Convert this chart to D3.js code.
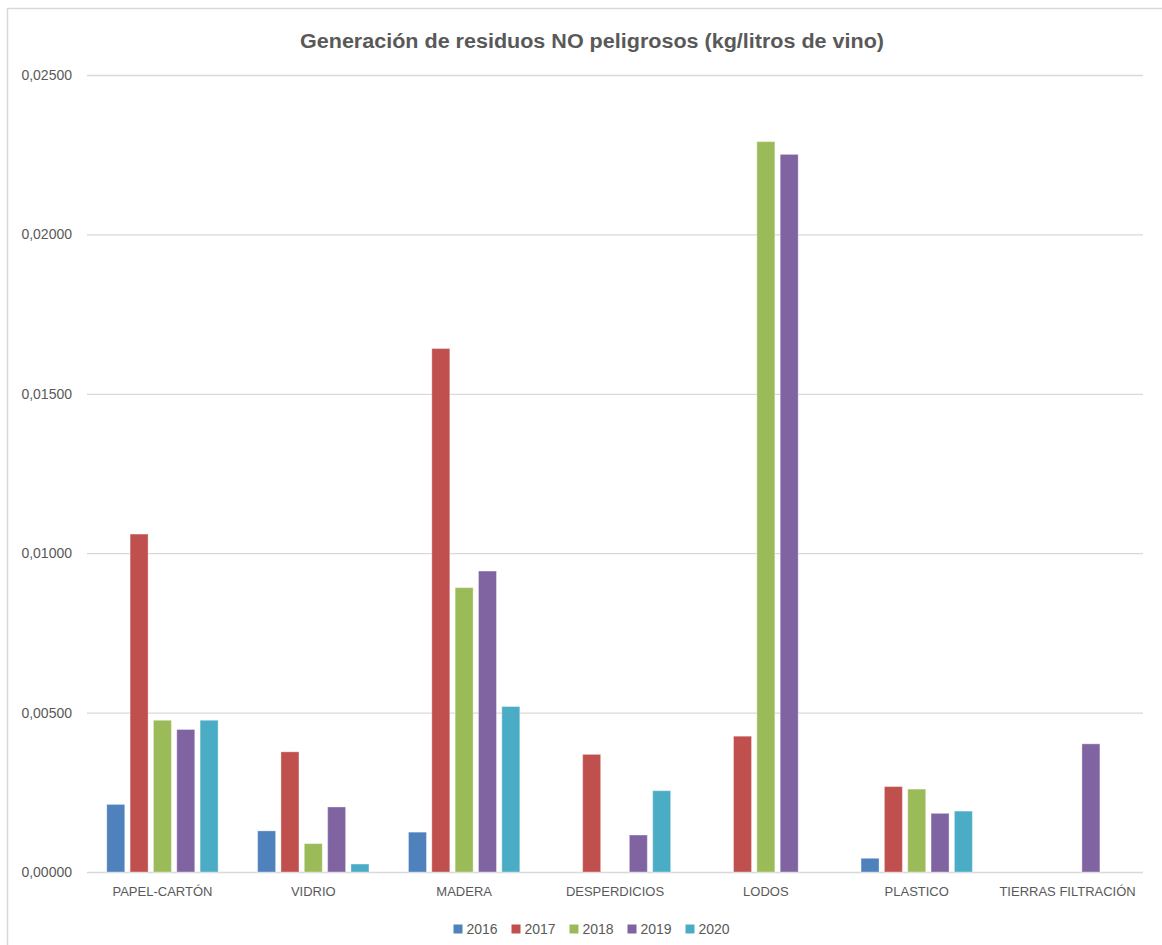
<!DOCTYPE html>
<html>
<head>
<meta charset="utf-8">
<script src="https://cdn.jsdelivr.net/npm/d3@7"></script>
<style>
  html, body { margin: 0; padding: 0; background: #fff; }
  svg { display: block; }
  text { font-family: "Liberation Sans", Arial, sans-serif; fill: #595959; }
</style>
</head>
<body>
<svg id="chart" width="1162" height="945"></svg>
<script>
// Residuos no peligrosos por tipo y año (kg/litros de vino)
const categories = ["PAPEL-CARTÓN", "VIDRIO", "MADERA", "DESPERDICIOS", "LODOS", "PLASTICO", "TIERRAS FILTRACIÓN"];
const years = ["2016", "2017", "2018", "2019", "2020"];

const values2016 = [0.00212, 0.00129, 0.00125, null, null, 0.00043, null];
const values2017 = [0.01060, 0.00377, 0.01642, 0.00369, 0.00426, 0.00268, null];
const values2018 = [0.00476, 0.00089, 0.00892, null, 0.02291, 0.00260, null];
const values2019 = [0.00447, 0.00204, 0.00944, 0.00116, 0.02251, 0.00184, 0.00402];
const values2020 = [0.00476, 0.00025, 0.00519, 0.00255, null, 0.00191, null];

const yTicks = [0, 0.005, 0.01, 0.015, 0.02, 0.025];
const colors = ["#4F81BD", "#C0504D", "#9BBB59", "#8064A2", "#4BACC6"];

const series = [values2016, values2017, values2018, values2019, values2020];

const svg = d3.select("#chart");
const plot = { left: 87, right: 1143, top: 75, bottom: 872 };

// Chart frame
svg.append("path")
  .attr("d", `M7.5,945 V8.5 H1162`)
  .attr("fill", "none")
  .attr("stroke", "#d9d9d9")
  .attr("stroke-width", 1.5);

// Scales
const x0 = d3.scaleBand()
  .domain(categories)
  .range([plot.left, plot.right])
  .paddingInner(0.262)
  .paddingOuter(0.131);

const x1 = d3.scaleBand()
  .domain(years)
  .range([0, x0.bandwidth()])
  .paddingInner(0.229)
  .paddingOuter(0);

const y = d3.scaleLinear()
  .domain([0, 0.025])
  .range([plot.bottom, plot.top]);

const esLocale = d3.formatLocale({ decimal: ",", thousands: ".", grouping: [3], currency: ["", " €"] });
const fmt = esLocale.format(".5f");

// Y axis with gridlines
const yAxis = d3.axisLeft(y)
  .tickValues(yTicks)
  .tickFormat(fmt)
  .tickSize(-(plot.right - plot.left))
  .tickPadding(15);

const gy = svg.append("g")
  .attr("transform", `translate(${plot.left},0)`)
  .call(yAxis);
gy.select(".domain").remove();
gy.selectAll(".tick line")
  .attr("stroke", "#d9d9d9")
  .attr("stroke-width", 1.3);
gy.selectAll(".tick text")
  .style("font-size", "14px")
  .style("fill", "#595959");

// X axis labels
const xAxis = d3.axisBottom(x0).tickSize(0).tickPadding(15);
const gx = svg.append("g")
  .attr("transform", `translate(0,${plot.bottom})`)
  .call(xAxis);
gx.select(".domain").remove();
gx.selectAll(".tick text")
  .style("font-size", "13px")
  .style("fill", "#595959");

// Bars
const rows = [];
categories.forEach((c, i) => {
  years.forEach((yr, j) => {
    const v = series[j][i];
    if (v != null) rows.push({ category: c, year: yr, value: v, color: colors[j] });
  });
});

svg.append("g")
  .selectAll("rect")
  .data(rows)
  .join("rect")
  .attr("x", d => x0(d.category) + x1(d.year))
  .attr("y", d => y(d.value))
  .attr("width", x1.bandwidth())
  .attr("height", d => y(0) - y(d.value))
  .attr("fill", d => d.color)
  .attr("stroke", "#ffffff")
  .attr("stroke-opacity", 0.35)
  .attr("stroke-width", 1);

// Title
svg.append("text")
  .attr("x", 592)
  .attr("y", 48)
  .attr("text-anchor", "middle")
  .attr("textLength", 584)
  .attr("lengthAdjust", "spacingAndGlyphs")
  .style("font-size", "20px")
  .style("font-weight", "bold")
  .style("fill", "#595959")
  .text("Generación de residuos NO peligrosos (kg/litros de vino)");

// Legend
const itemStep = 58;
const legendWidth = itemStep * (years.length - 1) + 45;
const legendX = 592 - legendWidth / 2;
const legend = svg.append("g").attr("transform", `translate(${legendX},929)`);
const items = legend.selectAll("g")
  .data(years)
  .join("g")
  .attr("transform", (d, i) => `translate(${i * itemStep},0)`);
items.append("rect")
  .attr("x", 0)
  .attr("y", -4.5)
  .attr("width", 9)
  .attr("height", 9)
  .attr("fill", (d, i) => colors[i]);
items.append("text")
  .attr("x", 13)
  .attr("y", 5)
  .style("font-size", "14px")
  .style("fill", "#595959")
  .text(d => d);
</script>
</body>
</html>
